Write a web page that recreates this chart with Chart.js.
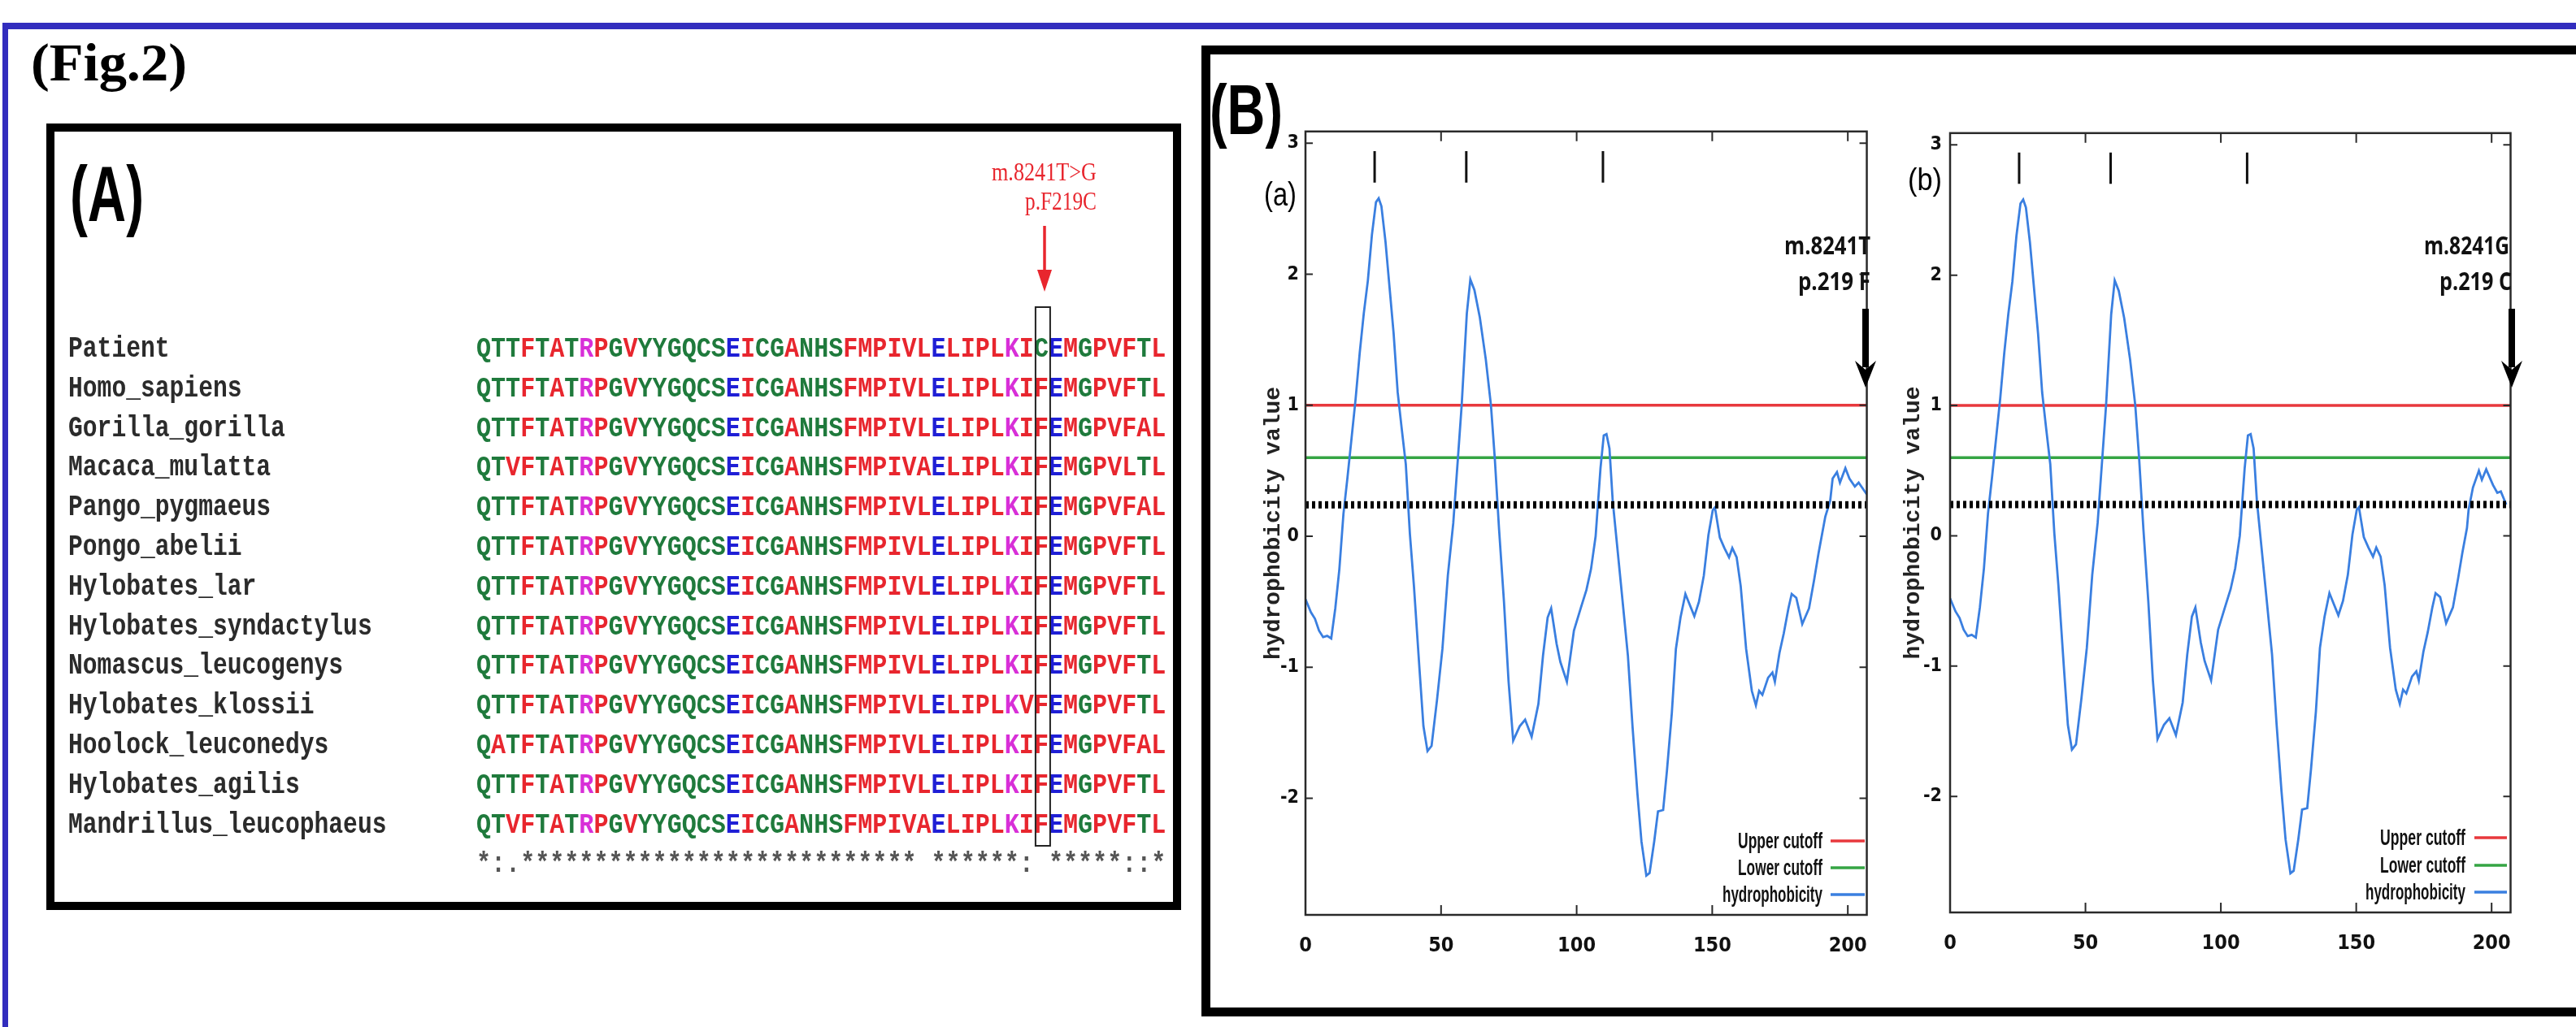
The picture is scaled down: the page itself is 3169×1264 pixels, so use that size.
<!DOCTYPE html>
<html>
<head>
<meta charset="utf-8">
<script src="https://cdn.jsdelivr.net/npm/chart.js@4.4.1/dist/chart.umd.min.js"></script>
<style>
html,body{margin:0;padding:0;background:#fff;}
body{width:3169px;height:1264px;position:relative;overflow:hidden;}
.abs{position:absolute;}
#blueTop{left:3px;top:28px;width:3166px;height:8px;background:#322dbe;}
#blueLeft{left:3px;top:28px;width:7px;height:1236px;background:#322dbe;}
#boxA{left:57px;top:152px;width:1396px;height:968px;border:10px solid #000;box-sizing:border-box;}
#boxB{left:1478px;top:56px;width:1710px;height:1195px;border:11px solid #000;box-sizing:border-box;}
canvas{position:absolute;}
#ov{position:absolute;left:0;top:0;}
</style>
</head>
<body>
<div class="abs" id="blueTop"></div>
<div class="abs" id="blueLeft"></div>
<div class="abs" id="boxA"></div>
<div class="abs" id="boxB"></div>
<canvas id="chartA" width="770" height="1060" style="left:1550px;top:140px;width:770px;height:1060px"></canvas>
<canvas id="chartB" width="775" height="1060" style="left:2337px;top:140px;width:775px;height:1060px"></canvas>
<svg id="ov" width="3169" height="1264" xmlns="http://www.w3.org/2000/svg"></svg>
<script>
// ---------------- DATA ----------------
const speciesNames = ['Patient','Homo_sapiens','Gorilla_gorilla','Macaca_mulatta','Pango_pygmaeus','Pongo_abelii',
  'Hylobates_lar','Hylobates_syndactylus','Nomascus_leucogenys','Hylobates_klossii','Hoolock_leuconedys',
  'Hylobates_agilis','Mandrillus_leucophaeus'];
const sequences = [
  'QTTFTATRPGVYYGQCSEICGANHSFMPIVLELIPLKICEMGPVFTL',
  'QTTFTATRPGVYYGQCSEICGANHSFMPIVLELIPLKIFEMGPVFTL',
  'QTTFTATRPGVYYGQCSEICGANHSFMPIVLELIPLKIFEMGPVFAL',
  'QTVFTATRPGVYYGQCSEICGANHSFMPIVAELIPLKIFEMGPVLTL',
  'QTTFTATRPGVYYGQCSEICGANHSFMPIVLELIPLKIFEMGPVFAL',
  'QTTFTATRPGVYYGQCSEICGANHSFMPIVLELIPLKIFEMGPVFTL',
  'QTTFTATRPGVYYGQCSEICGANHSFMPIVLELIPLKIFEMGPVFTL',
  'QTTFTATRPGVYYGQCSEICGANHSFMPIVLELIPLKIFEMGPVFTL',
  'QTTFTATRPGVYYGQCSEICGANHSFMPIVLELIPLKIFEMGPVFTL',
  'QTTFTATRPGVYYGQCSEICGANHSFMPIVLELIPLKVFEMGPVFTL',
  'QATFTATRPGVYYGQCSEICGANHSFMPIVLELIPLKIFEMGPVFAL',
  'QTTFTATRPGVYYGQCSEICGANHSFMPIVLELIPLKIFEMGPVFTL',
  'QTVFTATRPGVYYGQCSEICGANHSFMPIVAELIPLKIFEMGPVFTL'
];
const consensusLine = '*:.*************************** ******: *****::*';
const mutatedColumn = 38;
const mutationLabels = ['m.8241T>G', 'p.F219C'];

const xTickValues = [0, 50, 100, 150, 200];
const yTickValues = [-2, -1, 0, 1, 2, 3];
const seriesLabels = ['Upper cutoff', 'Lower cutoff', 'hydrophobicity'];
const upperCutoff = 1.0;
const lowerCutoff = 0.6;
const referenceLevel = 0.24;
const helixMarkers = [25.5, 59.3, 109.7];
const markerRange = [2.70, 2.94];

const hydroPositions = [0,2,3.5,5,6.5,8,9.5,11,12.5,14,15.5,17,18.5,20,21.5,23,24.5,26,27,28,29.5,31,32.5,34,35.5,37,38.5,
  40,42,43.5,45,46.5,48.5,50.5,52.5,54.5,56.3,57.6,59.5,60.8,62.3,64.3,66.5,68.4,69.8,71.4,73.2,74.9,76.6,79,81,83.4,85.9,
  87.6,89.3,90.6,92.6,94,96.4,99,101.5,103.6,105.3,107,108.8,110,111,112.1,113.3,116.4,118.9,120.6,122.4,123.9,125.7,126.9,
  128.6,130,131.9,133.3,135.1,136.6,138.3,140.1,143.4,145.1,146.9,148.6,150.2,151,152.8,154.5,156.2,157.4,159,160.5,162.5,
  164.6,166.1,167.3,168.5,170.6,172.2,173.1,174.8,176.4,178.1,179.3,181,183.2,185.7,187.6,189.2,190.9];
const hydroValues = [-0.48,-0.58,-0.63,-0.72,-0.77,-0.76,-0.78,-0.55,-0.25,0.17,0.45,0.75,1.05,1.4,1.7,1.95,2.3,2.55,2.58,2.52,2.25,1.9,1.55,1.1,0.82,0.55,0.02,
  -0.38,-1.0,-1.45,-1.64,-1.6,-1.25,-0.86,-0.3,0.1,0.62,1.0,1.7,1.96,1.88,1.67,1.35,1.0,0.6,0.05,-0.5,-1.11,-1.56,-1.45,-1.40,-1.53,-1.28,
  -0.91,-0.62,-0.55,-0.82,-0.96,-1.11,-0.72,-0.55,-0.41,-0.25,0.0,0.52,0.77,0.78,0.67,0.27,-0.38,-0.91,-1.45,-1.96,-2.33,-2.59,-2.57,
  -2.33,-2.10,-2.09,-1.79,-1.35,-0.86,-0.62,-0.44,-0.61,-0.50,-0.30,0.01,0.20,0.22,-0.01,-0.09,-0.16,-0.09,-0.16,-0.38,-0.86,
  -1.18,-1.29,-1.18,-1.21,-1.08,-1.04,-1.11,-0.89,-0.74,-0.55,-0.44,-0.47,-0.67,-0.55,-0.33,-0.13,0.06];
// wild type (a) tail, residue 219 F
const tailPositionsA = [191.7,193.5,194.4,196,197.1,199.1,200.6,202.6,204,207];
const tailValuesA = [0.15,0.27,0.44,0.49,0.41,0.52,0.44,0.38,0.41,0.32];
// mutant (b) tail, residue 219 C
const tailPositionsB = [191.5,193.1,195.3,196.4,198,200.5,202.1,203.4,205.4];
const tailValuesB = [0.20,0.37,0.50,0.43,0.51,0.39,0.33,0.34,0.24];

// ---------------- OVERLAY (panel A + labels) ----------------
const NS = 'http://www.w3.org/2000/svg';
const svg = document.getElementById('ov');
function el(tag, attrs, parent) {
  const e = document.createElementNS(NS, tag);
  for (const k in attrs) e.setAttribute(k, attrs[k]);
  (parent || svg).appendChild(e);
  return e;
}
function txt(str, attrs, parent) { const t = el('text', attrs, parent); t.textContent = str; return t; }

const RED = '#e8262e', BLUE_R = '#1f1fd6', MAG = '#d82fd8', GRN = '#1f7a3c';
const groupColor = {};
'AVFPMILW'.split('').forEach(c => groupColor[c] = RED);
'DE'.split('').forEach(c => groupColor[c] = BLUE_R);
'RK'.split('').forEach(c => groupColor[c] = MAG);
'STYHCNGQ'.split('').forEach(c => groupColor[c] = GRN);

const MONO = "'Liberation Mono','DejaVu Sans Mono',monospace";
const monoSize = 36, monoAdv = 21.6;
const nameX = 84, seqX = 586, row0 = 439, rowH = 48.8, seqAdv = 18.05, nameAdv = 17.8;

speciesNames.forEach((n, i) => {
  txt(n, {x: 0, y: 0, transform: `translate(${nameX},${row0 + i * rowH}) scale(${nameAdv / monoAdv},1)`,
    'font-family': MONO, 'font-size': monoSize, 'font-weight': 'bold', fill: '#2b2b2b'});
});
function seqRow(s, y, colorFn) {
  const t = el('text', {x: 0, y: 0, transform: `translate(${seqX},${y}) scale(${seqAdv / monoAdv},1)`,
    'font-family': MONO, 'font-size': monoSize, 'font-weight': 'bold'});
  s.split('').forEach((c, j) => {
    if (c === ' ') return;
    const ts = el('tspan', {x: j * monoAdv, fill: colorFn(c)}, t);
    ts.textContent = c;
  });
}
sequences.forEach((s, i) => seqRow(s, row0 + i * rowH, c => groupColor[c] || '#333'));
seqRow(consensusLine, row0 + sequences.length * rowH, () => '#555');

// column box around mutated residue
el('rect', {x: seqX + mutatedColumn * seqAdv + 2, y: 378, width: 18, height: 663, fill: 'none', stroke: '#222', 'stroke-width': 2});

// red annotation
txt(mutationLabels[0], {x: 1220, y: 222, 'font-family': "'Liberation Serif',serif", 'font-size': 31, fill: RED, textLength: 129, lengthAdjust: 'spacingAndGlyphs'});
txt(mutationLabels[1], {x: 1261, y: 258, 'font-family': "'Liberation Serif',serif", 'font-size': 31, fill: RED, textLength: 88, lengthAdjust: 'spacingAndGlyphs'});
el('line', {x1: 1285, y1: 278, x2: 1285, y2: 336, stroke: RED, 'stroke-width': 3.5});
el('polygon', {points: '1276,332 1294,332 1285,359', fill: RED});

// panel labels
txt('(Fig.2)', {x: 38, y: 99, 'font-family': "'Liberation Serif',serif", 'font-weight': 'bold', 'font-size': 66, fill: '#000', textLength: 192, lengthAdjust: 'spacingAndGlyphs'});
txt('(A)', {x: 86, y: 272, 'font-family': "'Liberation Sans',Arial,sans-serif", 'font-weight': 'bold', 'font-size': 96, fill: '#000', textLength: 91, lengthAdjust: 'spacingAndGlyphs'});
txt('(B)', {x: 1488, y: 165, 'font-family': "'Liberation Sans',Arial,sans-serif", 'font-weight': 'bold', 'font-size': 87, fill: '#000', textLength: 90, lengthAdjust: 'spacingAndGlyphs'});
txt('(a)', {x: 1555, y: 253, 'font-family': "'Liberation Sans',Arial,sans-serif", 'font-size': 40, fill: '#000', textLength: 40, lengthAdjust: 'spacingAndGlyphs'});
txt('(b)', {x: 2347, y: 234, 'font-family': "'Liberation Sans',Arial,sans-serif", 'font-size': 38, fill: '#000', textLength: 42, lengthAdjust: 'spacingAndGlyphs'});

// B annotations
const SANSB = "'Open Sans','Liberation Sans',sans-serif";
function annot(x, y, s, len) {
  txt(s, {x: x, y: y, 'font-family': SANSB, 'font-weight': 'bold', 'font-size': 30, fill: '#111', textLength: len, lengthAdjust: 'spacingAndGlyphs'});
}
annot(2195, 313, 'm.8241T', 106);
annot(2212, 357, 'p.219 F', 89);
annot(2982, 313, 'm.8241G', 105);
annot(3001, 357, 'p.219 C', 89);
function downArrow(x) {
  el('rect', {x: x - 4, y: 380, width: 8, height: 72, fill: '#000'});
  el('path', {d: `M${x - 13},444 L${x},477 L${x + 13},444 L${x},455 Z`, fill: '#000'});
}
downArrow(2295);
downArrow(3090);

// legends
const RED_L = '#e8383d', GREEN_L = '#35a544', BLUE_L = '#3a7fe0';
const legendColors = [RED_L, GREEN_L, BLUE_L];
function legend(rightX, lineX1, lineX2, baselines, lens) {
  seriesLabels.forEach((lab, i) => {
    txt(lab, {x: rightX - lens[i], y: baselines[i], 'font-family': "'Liberation Sans Narrow','Liberation Sans',sans-serif",
      'font-weight': 'bold', 'font-size': 27, fill: '#111', textLength: lens[i], lengthAdjust: 'spacingAndGlyphs'});
    el('line', {x1: lineX1, y1: baselines[i] - 9, x2: lineX2, y2: baselines[i] - 9, stroke: legendColors[i], 'stroke-width': 3.5});
  });
}
legend(2242, 2252, 2294, [1044, 1077, 1110], [104, 104, 123]);
legend(3033, 3044, 3084, [1040, 1074, 1107], [105, 105, 123]);

// ---------------- CHARTS ----------------
const xMin = 0, xMax = 207, yMin = -2.89, yMax = 3.09;
const TICKFONT = "'Liberation Sans Narrow','DejaVu Sans Condensed','Liberation Sans',sans-serif";

const framePlugin = {
  id: 'gnuframe',
  afterDraw(chart) {
    const {ctx, chartArea: a, scales: {x, y}} = chart;
    ctx.save();
    ctx.strokeStyle = '#2a2a2a';
    ctx.lineWidth = 2.5;
    ctx.strokeRect(a.left, a.top, a.right - a.left, a.bottom - a.top);
    ctx.lineWidth = 2;
    ctx.beginPath();
    xTickValues.forEach(v => {
      const px = x.getPixelForValue(v);
      ctx.moveTo(px, a.bottom); ctx.lineTo(px, a.bottom - 12);
      ctx.moveTo(px, a.top); ctx.lineTo(px, a.top + 12);
    });
    yTickValues.forEach(v => {
      const py = y.getPixelForValue(v);
      ctx.moveTo(a.left, py); ctx.lineTo(a.left + 9, py);
      ctx.moveTo(a.right, py); ctx.lineTo(a.right - 9, py);
    });
    ctx.stroke();
    ctx.restore();
  }
};

function buildChart(id, positions, values, o) {
  const hydroPoints = positions.map((p, i) => ({x: p, y: values[i]}));
  const markerPoints = [];
  helixMarkers.forEach(m => markerPoints.push({x: m, y: markerRange[1]}, {x: m, y: markerRange[0]}, {x: m, y: null}));
  const flat = v => [{x: xMin, y: v}, {x: xMax, y: v}];
  return new Chart(document.getElementById(id), {
    type: 'line',
    data: {datasets: [
      {label: 'markers', data: markerPoints, borderColor: '#111', borderWidth: 3, pointRadius: 0, spanGaps: false},
      {label: 'reference', data: flat(referenceLevel), borderColor: '#000', borderWidth: 9, borderDash: [4, 4], pointRadius: 0},
      {label: seriesLabels[2], data: hydroPoints, borderColor: BLUE_L, borderWidth: 2.8, pointRadius: 0, tension: 0},
      {label: seriesLabels[1], data: flat(lowerCutoff), borderColor: GREEN_L, borderWidth: 3.5, pointRadius: 0},
      {label: seriesLabels[0], data: flat(upperCutoff), borderColor: RED_L, borderWidth: 3.5, pointRadius: 0}
    ]},
    options: {
      responsive: false, animation: false, devicePixelRatio: 1,
      layout: {padding: {top: o.padTop, right: o.padRight, left: 0, bottom: 0}},
      plugins: {legend: {display: false}, tooltip: {enabled: false}},
      scales: {
        x: {type: 'linear', min: xMin, max: xMax,
          grid: {display: false, drawTicks: false}, border: {display: false},
          afterBuildTicks: s => { s.ticks = xTickValues.map(v => ({value: v})); },
          afterFit: s => { s.height = o.xHeight; },
          ticks: {autoSkip: false, maxRotation: 0, padding: 23, color: '#111', font: {family: TICKFONT, size: 25, weight: 'bold'}}},
        y: {type: 'linear', min: yMin, max: yMax,
          grid: {display: false, drawTicks: false}, border: {display: false},
          afterBuildTicks: s => { s.ticks = yTickValues.map(v => ({value: v})); },
          afterFit: s => { s.width = o.yWidth; },
          ticks: {padding: o.yPad, color: '#111', font: {family: TICKFONT, size: 23, weight: 'bold'}},
          title: {display: true, text: 'hydrophobicity value', padding: 0, color: '#222',
            font: {family: MONO, size: 28, weight: 'bold'}}}
      }
    },
    plugins: [framePlugin]
  });
}

buildChart('chartA', hydroPositions.concat(tailPositionsA), hydroValues.concat(tailValuesA),
  {padTop: 17, padRight: 10, xHeight: 74, yWidth: 56, yPad: 8});
buildChart('chartB', hydroPositions.concat(tailPositionsB), hydroValues.concat(tailValuesB),
  {padTop: 15, padRight: 10, xHeight: 77, yWidth: 62, yPad: 10});
</script>
</body>
</html>
